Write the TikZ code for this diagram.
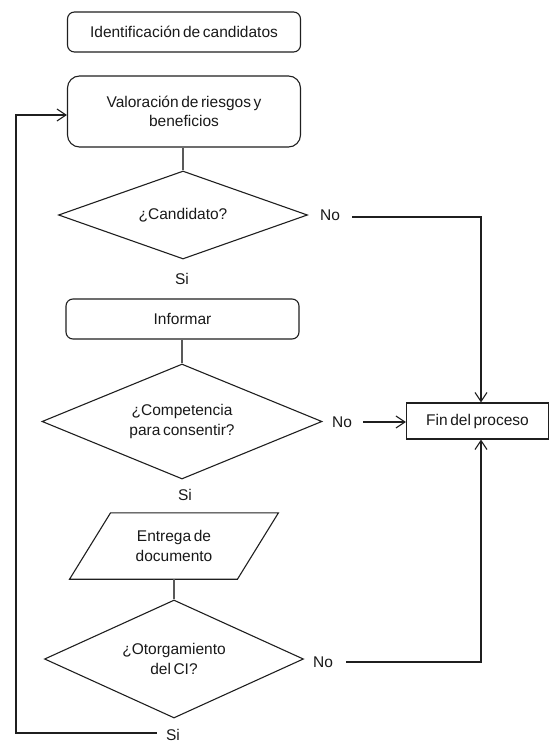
\documentclass[tikz,border=0pt]{standalone}
\usepackage{fontspec}
\setmainfont{Liberation Sans}[WordSpace=0.6]
\usetikzlibrary{shapes.geometric,arrows.meta}
\begin{document}
\begin{tikzpicture}[x=1pt,y=-1pt,
  every node/.style={font=\fontsize{15.5}{19.5}\selectfont, text=black!90},
  box/.style={draw=black!88, line width=1.1pt, rounded corners=7pt, minimum width=233pt, minimum height=40pt, align=center, inner sep=0pt},
  dec/.style={draw=black!88, line width=1.1pt, diamond, shape aspect=2.2, inner sep=0pt, align=center},
  lbl/.style={inner sep=1pt},
  endbox/.style={draw=black!88, line width=1.1pt, minimum width=142pt, minimum height=36pt, inner sep=0pt},
  link/.style={draw=black!65, line width=1.5pt},
  flow/.style={draw=black!88, line width=1.1pt, -{Straight Barb[length=9pt,width=12pt,line width=1.1pt]}},
  plain/.style={draw=black!88, line width=1.1pt}
]
\useasboundingbox (0,0) rectangle (550,743);

\node[box] (id) at (184,32) {Identificación de candidatos};
\node[box, minimum height=71pt, rounded corners=12pt] (val) at (184,111.5) {Valoración de riesgos y\\beneficios};
\node[dec, minimum width=249pt, minimum height=88pt] (d1) at (183,215) {¿Candidato?};
\node[lbl] (si1) at (182,279) {Si};
\node[lbl] (no1) at (330,215) {No};

\node[box] (inf) at (182.5,319) {Informar};
\node[dec, minimum width=280pt, minimum height=115pt] (d2) at (182,421.5) {¿Competencia\\para consentir?};
\node[lbl] (no2) at (342,422) {No};
\node[endbox] (fin) at (477.5,421) {Fin del proceso};
\node[lbl] (si2) at (185,495) {Si};

\node[minimum width=167.5pt, minimum height=66pt, align=center, inner sep=0pt] (ent) at (174,546) {Entrega de\\documento};
\draw[plain] ([xshift=20.5pt]ent.north west) -- ([xshift=20.5pt]ent.north east)
  -- ([xshift=-20.5pt]ent.south east) -- ([xshift=-20.5pt]ent.south west) -- cycle;
\node[dec, minimum width=259pt, minimum height=118pt] (d3) at (174,659) {¿Otorgamiento\\del CI?};
\node[lbl] (no3) at (323,662) {No};
\node[lbl] (si3) at (173,735) {Si};

\draw[link] (val.south -| d1.north) -- (d1.north);
\draw[link] (inf.south -| d2.north) -- (d2.north);
\draw[link] (ent.south) -- (d3.north);

\draw[flow] ([xshift=11pt,yshift=-2pt]no1.east) -| ([xshift=3.5pt]fin.north);
\draw[flow] ([xshift=10pt]no2.east) -- (no2.east -| fin.west);
\draw[flow] ([xshift=12pt]no3.east) -| ([xshift=3.5pt]fin.south);

\coordinate (lp) at (16,115);
\draw[flow] ([xshift=-8pt,yshift=2pt]si3.west) -| (lp) -- (lp -| val.west);
\end{tikzpicture}
\end{document}
